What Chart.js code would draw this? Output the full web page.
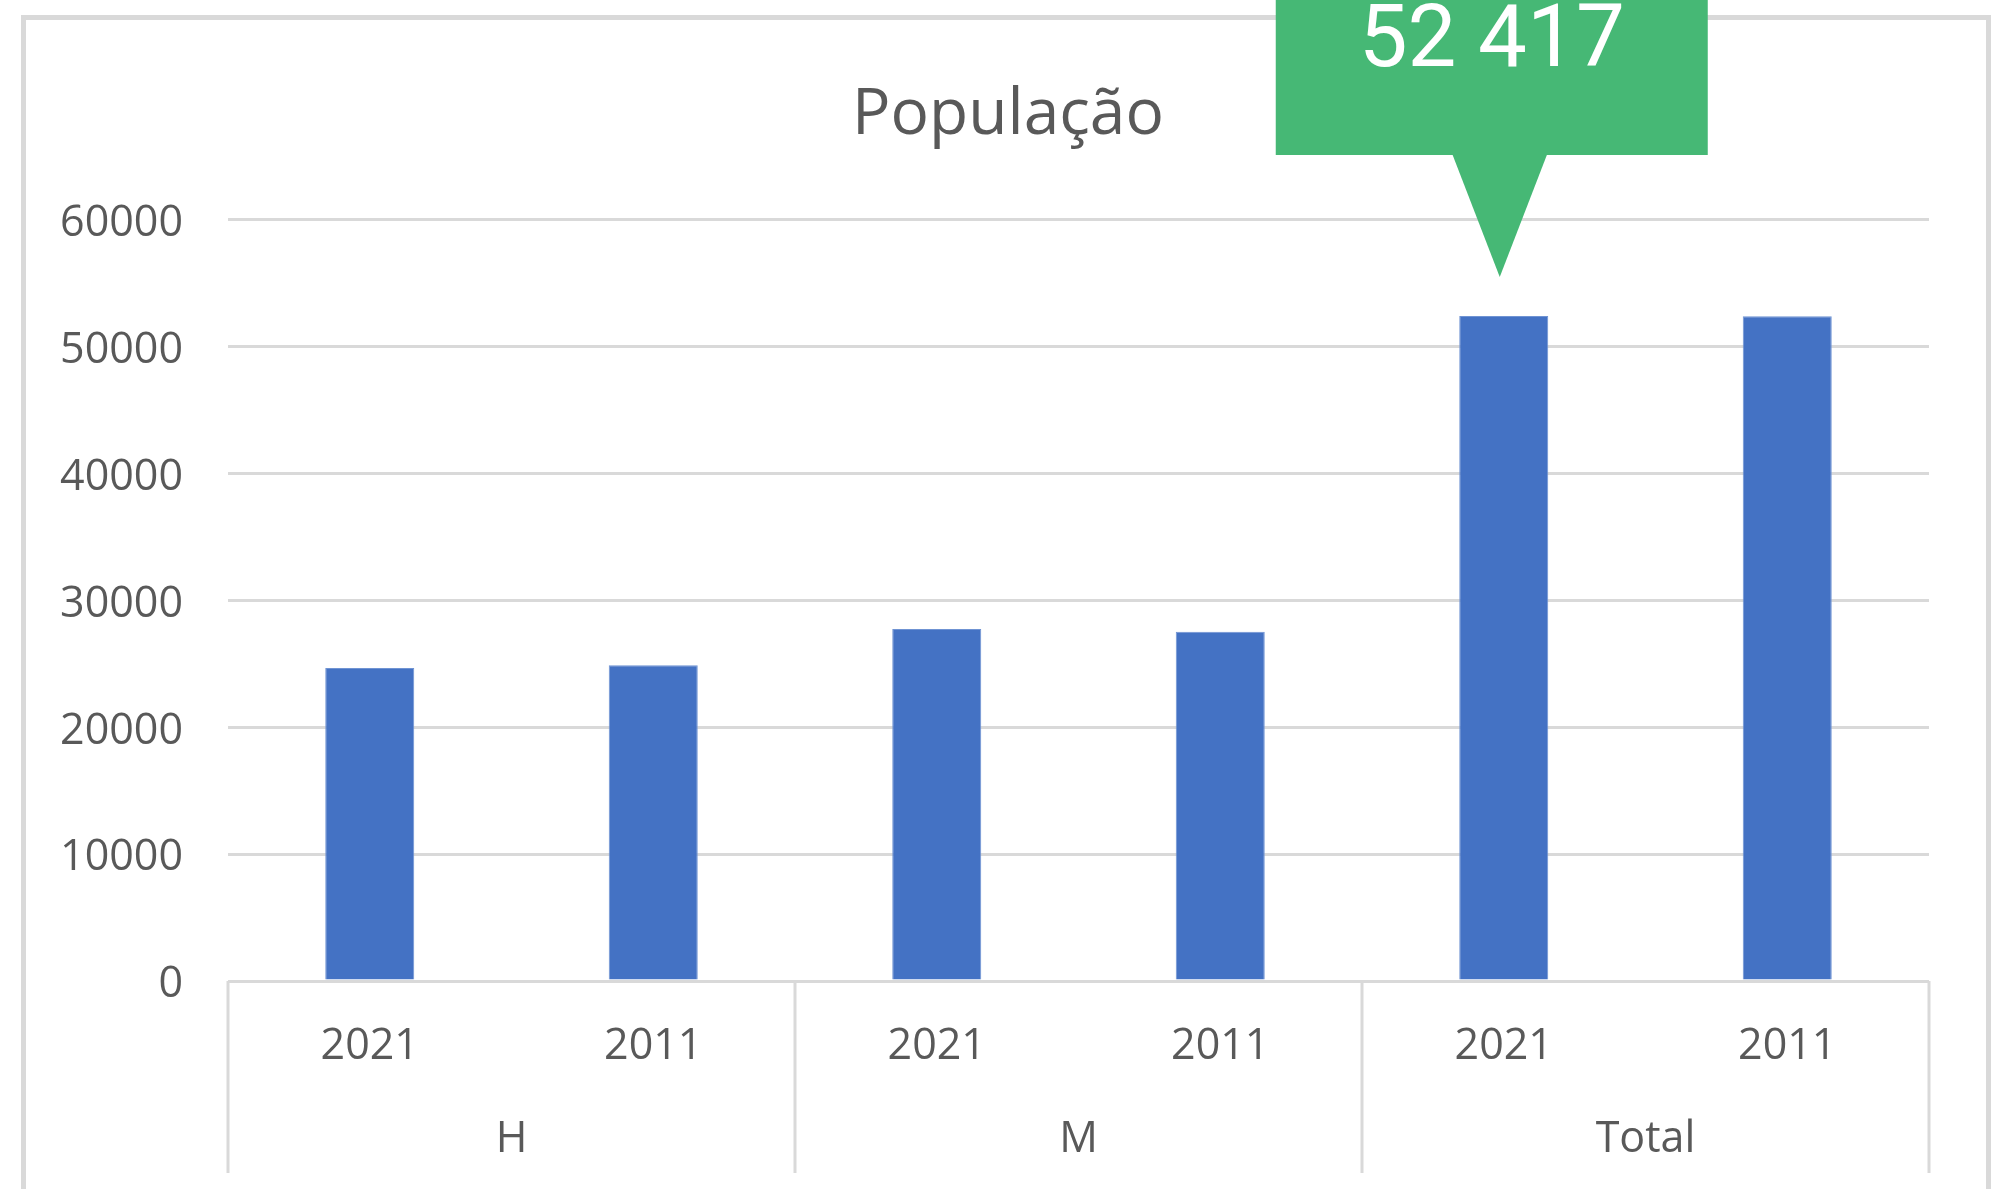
<!DOCTYPE html>
<html><head><meta charset="utf-8">
<script src="https://cdn.jsdelivr.net/npm/chart.js@4.4.1/dist/chart.umd.min.js"></script>
<style>
html,body{margin:0;padding:0;background:#fff;overflow:hidden;width:2010px;height:1189px;}
#frame{position:absolute;left:21px;top:15px;width:1960px;height:1300px;border:5px solid #d9d9d9;}
#c{position:absolute;left:0;top:0;}
</style></head><body>
<div id="frame"></div>
<canvas id="c" width="2010" height="1189"></canvas>
<script>
const chartTitle = 'População';
const years = ['2021', '2011', '2021', '2011', '2021', '2011'];
const groups = ['H', 'M', 'Total'];
const population = [24670, 24880, 27747, 27520, 52417, 52400];
const yMin = 0, yMax = 60000, yStep = 10000;
const calloutIndex = 4;

const GRID = '#d9d9d9';
const TEXT = '#595959';
const tickFont = { family: 'Open Sans', size: 43 };

function spaced(n) { return String(n).replace(/\B(?=(\d{3})+(?!\d))/g, ' '); }

const separators = {
  id: 'separators',
  afterDraw(chart) {
    const x = chart.scales.x, x2 = chart.scales.x2, ctx = chart.ctx;
    const half = (x.getPixelForValue(1) - x.getPixelForValue(0)) / 2;
    const per = years.length / groups.length;
    ctx.save();
    ctx.strokeStyle = GRID; ctx.lineWidth = 3;
    for (let g = 0; g <= groups.length; g++) {
      const px = x.getPixelForValue(g * per) - half;
      ctx.beginPath();
      ctx.moveTo(px, x.top);
      ctx.lineTo(px, x2.bottom + 1);
      ctx.stroke();
    }
    ctx.restore();
  }
};

const callout = {
  id: 'callout',
  afterDraw(chart) {
    const bar = chart.getDatasetMeta(0).data[calloutIndex];
    const ctx = chart.ctx;
    const tipX = bar.x - 4, tipY = bar.y - 39;
    const bottom = tipY - 122, top = bottom - 300;
    const left = tipX - 224, right = tipX + 208;
    ctx.save();
    ctx.fillStyle = '#46B875';
    ctx.fillRect(left, top, right - left, bottom - top);
    ctx.beginPath();
    ctx.moveTo(tipX - 47.5, bottom - 1);
    ctx.lineTo(tipX + 47.5, bottom - 1);
    ctx.lineTo(tipX, tipY);
    ctx.closePath();
    ctx.fill();
    ctx.fillStyle = '#ffffff';
    ctx.font = '87px Roboto';
    ctx.textAlign = 'center';
    ctx.textBaseline = 'alphabetic';
    ctx.fillText(spaced(population[calloutIndex]), (left + right) / 2, bottom - 89);
    ctx.restore();
  }
};

new Chart(document.getElementById('c'), {
  type: 'bar',
  data: {
    labels: years,
    datasets: [{
      data: population,
      backgroundColor: '#4472C4',
      borderColor: '#6f93d3',
      borderWidth: 1,
      categoryPercentage: 1,
      barPercentage: 0.314
    }]
  },
  options: {
    responsive: false,
    animation: false,
    events: [],
    layout: { padding: { left: 30, right: 24, top: 20, bottom: 17 } },
    plugins: {
      legend: { display: false },
      tooltip: { enabled: false },
      title: {
        display: true,
        text: chartTitle,
        color: TEXT,
        font: { family: 'Open Sans', size: 64, weight: 'normal', lineHeight: 1.2 },
        padding: { top: 57, bottom: 66 }
      }
    },
    scales: {
      y: {
        min: yMin, max: yMax,
        ticks: { stepSize: yStep, color: TEXT, font: tickFont, padding: 45, labelOffset: 4, callback: v => String(v) },
        grid: { color: GRID, lineWidth: 3, drawTicks: false },
        border: { display: false },
        afterFit(s) { s.width = 198; }
      },
      yRight: {
        position: 'right',
        display: true,
        ticks: { display: false },
        grid: { display: false },
        border: { display: false },
        afterFit(s) { s.width = 57; }
      },
      x: {
        weight: 0,
        offset: true,
        ticks: { color: TEXT, font: tickFont, padding: 32, autoSkip: false, maxRotation: 0 },
        grid: { display: false },
        border: { display: false },
        afterFit(s) { s.height = 91; }
      },
      x2: {
        type: 'category',
        labels: groups,
        position: 'bottom',
        weight: 1,
        offset: true,
        ticks: { color: TEXT, font: tickFont, padding: 34, autoSkip: false, maxRotation: 0 },
        grid: { display: false },
        border: { display: false },
        afterFit(s) { s.height = 100; }
      }
    }
  },
  plugins: [separators, callout]
});
</script>
</body></html>
